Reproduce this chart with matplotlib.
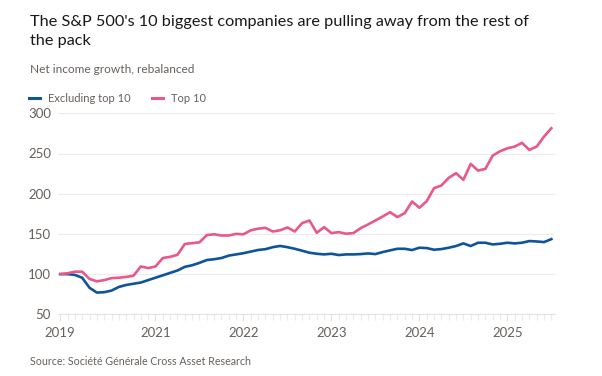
import matplotlib.pyplot as plt
from matplotlib.lines import Line2D

# Monthly data, index 0 = start of the chart
top10 = [100, 101, 103, 103, 94, 91, 92.5, 95, 95.5, 96.5, 98, 109.5, 107.5, 109.5,
         120, 121.5, 124, 137.5, 138.5, 139.5, 148.5, 149.5, 148, 148, 150, 149.5,
         154.5, 156.5, 157.5, 153, 154.5, 158, 153,
         163.4, 166.7, 151.4, 158.4, 151, 152.2, 150.2, 151, 157.2, 161.8, 166.7,
         171.7, 177, 170.9, 175.8, 190.3, 182.5, 190.7, 206.9, 210.2, 219.7, 225.5,
         217.2, 237.1, 228.8, 230.9, 247.4, 252.8, 256.5, 258.6, 263.2, 254.5,
         258.6, 271, 281.4]
excl_top10 = [100, 100, 99, 95.5, 83, 77, 77.5, 79.5, 84, 86.5, 88, 89.5, 92.5, 95.5,
              98.5, 101.5, 104.5, 109, 111, 114, 117.5, 118.5, 120, 123, 124.5, 126,
              128, 130, 131, 133.5, 135, 133.5, 131.5,
              129.1, 126.6, 125.3, 124.5, 125.3, 123.7, 124.5, 124.5, 124.9, 125.7,
              124.9, 127.4, 129.5, 131.5, 131.5, 129.9, 132.8, 132.4, 130.3, 131.1,
              132.8, 134.9, 138.2, 134.9, 139, 139, 136.9, 137.7, 139, 138.2, 139,
              141.1, 140.6, 139.8, 143.5]
months = list(range(len(top10)))

year_labels = ["2019", "2021", "2022", "2023", "2024", "2025"]
year_pos = [0, 13, 25, 37, 49, 61]
y_ticks = [50, 100, 150, 200, 250, 300]

blue = "#0f5499"
pink = "#e8588a"
grey = "#66605c"

plt.rcParams["font.family"] = ["Lato", "DejaVu Sans"]

fig = plt.figure(figsize=(6.02, 3.76), dpi=100)
fig.patch.set_facecolor("white")
ax = fig.add_axes([58 / 602, 1 - 314.3 / 376, 497 / 602, 201 / 376])

ax.plot(months, excl_top10, color=blue, linewidth=1.9, solid_joinstyle="round")
ax.plot(months, top10, color=pink, linewidth=1.9, solid_joinstyle="round")

ax.set_xlim(-0.3, 67.5)
ax.set_ylim(50, 300)
ax.set_yticks(y_ticks)
ax.set_yticklabels([str(v) for v in y_ticks])
ax.set_xticks(year_pos)
ax.set_xticklabels(year_labels)
ax.set_xticks(months, minor=True)

ax.grid(axis="y", color="#eeebe8", linewidth=0.8)
ax.set_axisbelow(True)
for side in ["top", "right", "left"]:
    ax.spines[side].set_visible(False)
ax.spines["bottom"].set_color("#e6e2de")
ax.spines["bottom"].set_linewidth(0.8)

ax.tick_params(axis="y", length=0, pad=5, labelsize=9.5, labelcolor=grey)
ax.tick_params(axis="x", which="major", length=5, width=0.8, color="#e6e2de",
               pad=4, labelsize=9.5, labelcolor=grey)
ax.tick_params(axis="x", which="minor", length=4, width=0.8, color="#ece9e6")

# Titles
fig.text(30 / 602, 1 - 26 / 376, "The S&P 500's 10 biggest companies are pulling away from the rest of",
         fontsize=11.7, color="#1a1817")
fig.text(30 / 602, 1 - 45 / 376, "the pack", fontsize=11.7, color="#1a1817")
fig.text(30 / 602, 1 - 73 / 376, "Net income growth, rebalanced", fontsize=8.6, color=grey)

# Legend
fig.add_artist(Line2D([29 / 602, 40 / 602], [1 - 98 / 376, 1 - 98 / 376], color=blue, linewidth=2.2))
fig.text(48 / 602, 1 - 98 / 376, "Excluding top 10", fontsize=8.0, color=grey, va="center")
fig.add_artist(Line2D([152 / 602, 163 / 602], [1 - 98 / 376, 1 - 98 / 376], color=pink, linewidth=2.2))
fig.text(171 / 602, 1 - 98 / 376, "Top 10", fontsize=8.0, color=grey, va="center")

fig.text(30 / 602, 1 - 365 / 376, "Source: Société Générale Cross Asset Research",
         fontsize=7.7, color=grey)

plt.savefig("out.png", dpi=100)
